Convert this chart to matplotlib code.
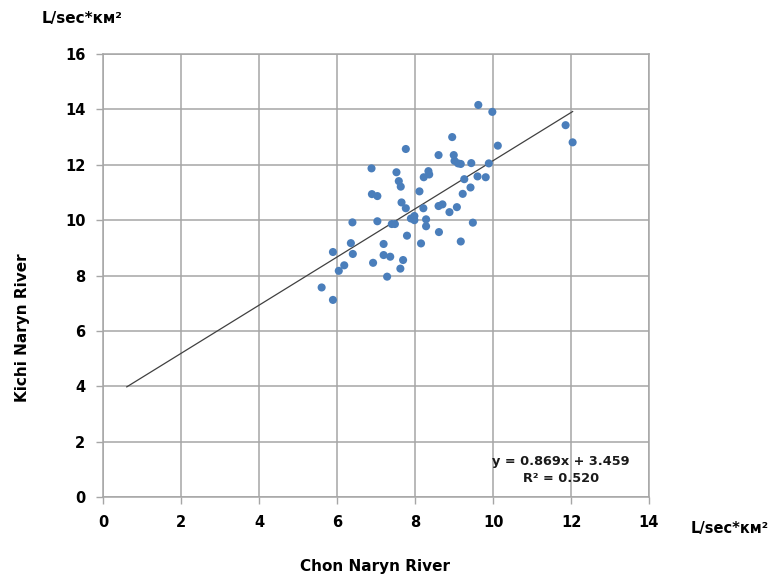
import numpy as np
import matplotlib
matplotlib.use("Agg")
import matplotlib.pyplot as plt

# Specific runoff, L/sec*km², paired observations for the two rivers
chon_naryn = [9.62, 9.98, 10.12, 8.95, 7.76, 8.60, 8.99, 9.01, 9.10, 9.17, 9.44, 9.89,
              6.88, 7.52, 8.34, 8.36, 8.22, 9.26, 9.60, 9.81, 7.58, 7.63, 9.42, 8.11,
              9.22, 6.89, 7.03, 7.65, 7.76, 8.21, 8.60, 8.70, 8.88, 9.07, 6.39, 7.03,
              7.40, 7.48, 7.89, 7.98, 7.98, 8.28, 8.28, 9.48, 7.79, 8.61, 6.35, 7.19,
              8.15, 9.17, 5.89, 6.40, 7.19, 7.36, 7.69, 6.92, 6.18, 6.04, 7.62, 7.28,
              5.60, 5.89, 11.86, 12.04]
kichi_naryn = [14.16, 13.91, 12.69, 13.00, 12.57, 12.35, 12.35, 12.14, 12.05, 12.03, 12.06, 12.05,
               11.87, 11.73, 11.77, 11.65, 11.55, 11.48, 11.58, 11.55, 11.41, 11.21, 11.18, 11.04,
               10.95, 10.94, 10.87, 10.64, 10.43, 10.43, 10.51, 10.57, 10.29, 10.47, 9.92, 9.96,
               9.86, 9.86, 10.06, 10.15, 10.00, 10.03, 9.78, 9.91, 9.44, 9.57, 9.17, 9.14,
               9.16, 9.23, 8.85, 8.78, 8.74, 8.68, 8.56, 8.46, 8.37, 8.17, 8.25, 7.96,
               7.57, 7.12, 13.43, 12.81]

# Linear trend (as reported), extended 5 units back from the smallest x
slope, intercept, r2 = 0.869, 3.459, 0.520
backward = 5.0

x_ticks = [0, 2, 4, 6, 8, 10, 12, 14]
y_ticks = [0, 2, 4, 6, 8, 10, 12, 14, 16]
unit_label = "L/sec*км²"

fig = plt.figure(figsize=(7.68, 5.8), dpi=100)
ax = fig.add_axes([103.4 / 768, 1 - 497.1 / 580, (649 - 103.4) / 768, (497.1 - 54) / 580])

grid_c = "#a6a6a6"
ax.set_xlim(0, 14)
ax.set_ylim(0, 16)
ax.set_xticks(x_ticks)
ax.set_yticks(y_ticks)
ax.grid(True, color=grid_c, linewidth=1.1)
ax.set_axisbelow(True)
for s in ax.spines.values():
    s.set_color(grid_c)
    s.set_linewidth(1.1)
ax.tick_params(axis="both", direction="out", length=5, width=1, color=grid_c,
               labelsize=10.5, pad=8)
for lab in ax.get_xticklabels() + ax.get_yticklabels():
    lab.set_fontweight("bold")
    lab.set_fontfamily("DejaVu Sans")

ax.scatter(chon_naryn, kichi_naryn, s=34, color="#4a7ebb", edgecolors="none", zorder=3)

x0 = min(chon_naryn) - backward
x1 = max(chon_naryn)
xs = np.array([x0, x1])
ax.plot(xs, slope * xs + intercept, color="#404040", linewidth=0.9, zorder=2)

ax.text(0.838, 0.061, f"y = {slope:.3f}x + {intercept:.3f}\nR² = {r2:.3f}",
        transform=ax.transAxes, ha="center", va="center", fontsize=9.3,
        fontweight="bold", color="#1a1a1a", linespacing=1.35, zorder=4)

fig.text(42 / 768, 1 - 18 / 580, unit_label, fontsize=11, fontweight="bold",
         ha="left", va="center")
fig.text(691 / 768, 1 - 528 / 580, unit_label, fontsize=10.5, fontweight="bold",
         ha="left", va="center")
fig.text(375 / 768, 1 - 567 / 580, "Chon Naryn River", fontsize=11, fontweight="bold",
         ha="center", va="center")
fig.text(23 / 768, 1 - 328 / 580, "Kichi Naryn River", fontsize=11, fontweight="bold",
         ha="center", va="center", rotation=90)

fig.savefig("out.png", dpi=100)
